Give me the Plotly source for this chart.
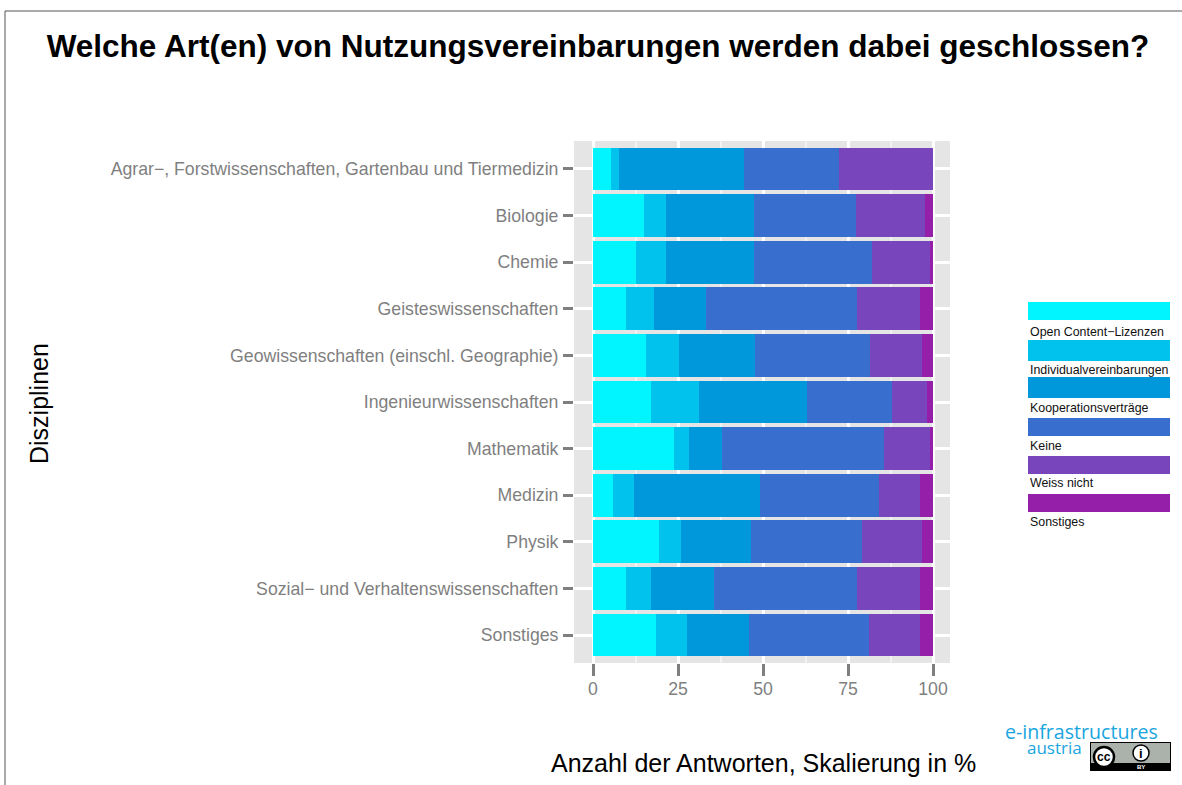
import plotly.graph_objects as go

W, H = 1182, 785
# panel box in page pixels
P_L, P_R, P_T, P_B = 574, 950, 141, 663

disciplines = [
    'Agrar−, Forstwissenschaften, Gartenbau und Tiermedizin',
    'Biologie',
    'Chemie',
    'Geisteswissenschaften',
    'Geowissenschaften (einschl. Geographie)',
    'Ingenieurwissenschaften',
    'Mathematik',
    'Medizin',
    'Physik',
    'Sozial− und Verhaltenswissenschaften',
    'Sonstiges',
]
series_names = ['Open Content−Lizenzen', 'Individualvereinbarungen', 'Kooperationsverträge',
                'Keine', 'Weiss nicht', 'Sonstiges']
colors = ['#00F5FF', '#00C2EC', '#0097DB', '#386FCE', '#7845BD', '#951FA8']

open_content = [5.3, 15.0, 12.6, 9.7, 15.5, 17.0, 23.8, 5.9, 19.4, 9.7, 18.5]
individual = [2.3, 6.4, 8.8, 8.2, 9.7, 14.1, 4.4, 6.1, 6.4, 7.3, 9.1]
kooperation = [36.7, 25.8, 25.8, 15.2, 22.3, 31.7, 9.6, 37.0, 20.8, 18.5, 18.4]
keine = [28.1, 30.1, 34.9, 44.6, 33.9, 25.2, 47.8, 35.2, 32.6, 42.2, 35.2]
weiss_nicht = [27.6, 20.4, 17.0, 18.5, 15.4, 10.2, 13.5, 12.0, 17.6, 18.5, 15.0]
sonstiges = [0.0, 2.3, 0.9, 3.8, 3.2, 1.8, 0.9, 3.8, 3.2, 3.8, 3.8]
values = [open_content, individual, kooperation, keine, weiss_nicht, sonstiges]

x_ticks = [0, 25, 50, 75, 100]

# legend swatches (pixel top, bottom) and label centre
legend_boxes = [(302, 320), (340, 361), (377, 398), (418, 436), (456, 474), (494, 512)]
legend_labels_y = [332, 370, 408, 446, 483, 522]

fig = go.Figure()
for name, vals, col in zip(series_names, values, colors):
    fig.add_trace(go.Bar(y=disciplines, x=vals, name=name, orientation='h',
                         marker=dict(color=col, line_width=0), width=0.92))


# page pixels to paper fractions (paper is the panel box in plotly)
def px(x):
    return (x - P_L) / (P_R - P_L)


def py(y):
    return (P_B - y) / (P_B - P_T)


def box(kind, x0, x1, y0, y1, **kw):
    return dict(type=kind, xref='paper', yref='paper', x0=px(x0), x1=px(x1), y0=py(y1), y1=py(y0), **kw)


def label(x, y, text, xanchor='center', **kw):
    return dict(xref='paper', yref='paper', x=px(x), y=py(y), text=text, showarrow=False,
                xanchor=xanchor, yanchor='middle', **kw)


shapes = [
    # frame round the page
    box('line', 5, W, 11, 11, line=dict(color='#555555', width=1)),
    box('line', 5, 5, 11, H, line=dict(color='#555555', width=1)),
]
annotations = []
for (top, bottom), lab_y, name, col in zip(legend_boxes, legend_labels_y, series_names, colors):
    shapes.append(box('rect', 1028, 1170, top, bottom, fillcolor=col, line_width=0))
    annotations.append(label(1028, lab_y, name, xanchor='left', font=dict(size=12.4, color='#111111')))

# CC-BY badge
shapes += [
    box('rect', 1090, 1171, 742, 771, fillcolor='#000000', line_width=0),
    box('rect', 1091, 1170, 743, 763, fillcolor='#AAB2AB', line_width=0),
    box('circle', 1094, 1114, 747, 767, fillcolor='#FFFFFF', line=dict(color='#000000', width=2.5)),
    box('circle', 1133, 1149, 745, 761, fillcolor='#FFFFFF', line=dict(color='#000000', width=1.5)),
]
annotations += [
    label(1104, 757, '<b>cc</b>', font=dict(size=12, color='#000000')),
    label(1141, 753, '<b>i</b>', font=dict(size=13, color='#000000')),
    label(1141, 767, '<b>BY</b>', font=dict(size=6, color='#FFFFFF')),
    label(1160, 731, 'e-infrastructures', xanchor='right', font=dict(size=19.6, color='#19A5E0', family='Open Sans')),
    label(1084, 747, 'austria', xanchor='right', font=dict(size=17, color='#19A5E0', family='Open Sans')),
    label(763, 763, 'Anzahl der Antworten, Skalierung in %', font=dict(size=25, color='#000000')),
    label(39, 404, 'Disziplinen', textangle=-90, font=dict(size=25, color='#000000')),
]

fig.update_layout(
    width=W, height=H,
    autosize=False,
    barmode='stack',
    showlegend=False,
    paper_bgcolor='#FFFFFF',
    plot_bgcolor='#E5E5E5',
    font=dict(family='Liberation Sans'),
    margin=dict(l=P_L, r=W - P_R, t=P_T, b=H - P_B, pad=0),
    title=dict(text='<b>Welche Art(en) von Nutzungsvereinbarungen werden dabei geschlossen?</b>',
               x=598 / W, xanchor='center', y=1 - 46 / H, yanchor='middle',
               font=dict(size=31.5, color='#000000')),
    shapes=shapes,
    annotations=annotations,
)
fig.update_yaxes(categoryorder='array', categoryarray=disciplines, range=[10.6, -0.6],
                 showgrid=True, gridcolor='#FFFFFF', gridwidth=3, zeroline=False, showline=False,
                 ticks='outside', ticklen=10, tickwidth=3, tickcolor='#7F7F7F', ticklabelstandoff=1,
                 tickfont=dict(size=17.7, color='#7F7F7F'))
fig.update_xaxes(range=[-5.6, 105], tickvals=x_ticks, showgrid=True, gridcolor='#FFFFFF', gridwidth=3,
                 zeroline=False, showline=False, ticks='outside', ticklen=12, tickwidth=3,
                 tickcolor='#7F7F7F', ticklabelstandoff=-2, tickfont=dict(size=17.7, color='#7F7F7F'),
                 minor=dict(tickvals=[12.5, 37.5, 62.5, 87.5], showgrid=True, gridcolor='#F2F2F2',
                            gridwidth=1.5, ticks=''))

fig.write_html("out.html", config=dict(displayModeBar=False),
               post_script="document.body.style.margin='0';")
